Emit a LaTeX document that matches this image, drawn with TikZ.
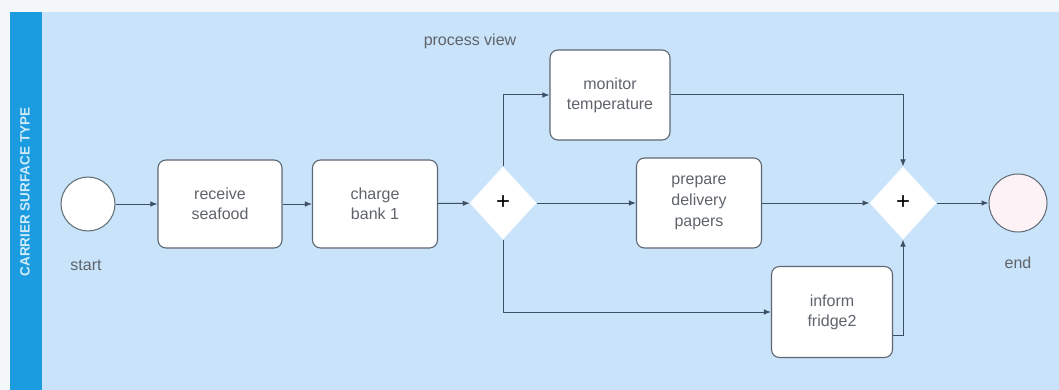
\documentclass[tikz,border=0pt]{standalone}
\usepackage{fontspec}
\setmainfont{Liberation Sans}
\usetikzlibrary{arrows.meta,shapes.geometric,calc}
\definecolor{lanebg}{HTML}{C9E3FA}
\definecolor{lanehead}{HTML}{1B9BE0}
\definecolor{pagebg}{HTML}{F4F8FA}
\definecolor{flow}{HTML}{3D4F63}
\definecolor{boxline}{HTML}{5E6873}
\definecolor{txt}{HTML}{5F646B}
\definecolor{endfill}{HTML}{FDF3F7}
\begin{document}
\begin{tikzpicture}[x=1pt,y=-1pt,
  every node/.style={font=\fontsize{16}{20}\selectfont, text=txt},
  task/.style={draw=boxline, line width=1.1pt, fill=white, rounded corners=8pt,
    align=center, inner sep=2pt},
  gate/.style={shape=diamond, draw=white!90!lanebg, fill=white, line width=1pt,
    minimum width=66pt, minimum height=72pt, inner sep=0pt,
    font=\fontsize{24}{24}\selectfont, text=black},
  event/.style={circle, draw=boxline, line width=1pt, minimum size=54pt, inner sep=0pt},
  seq/.style={draw=flow, line width=1pt, -{Latex[length=7pt,width=5.5pt]}},
  lbl/.style={font=\fontsize{16}{18}\selectfont}
]
\useasboundingbox (0,0) rectangle (1059,390);
% page and lane
\fill[pagebg] (0,0) rectangle (1059,390);
\fill[lanebg] (10,12) rectangle (1059,390);
\fill[lanehead] (10,12) rectangle (42,390);
\node[rotate=90, text=white!80!lanehead, font=\fontsize{13.5}{14}\selectfont\bfseries] (lane) at (25,192) {CARRIER SURFACE TYPE};
\node[lbl] (pv) at (470,41) {process view};

% events
\node[event, fill=white] (start) at (88,204) {};
\node[lbl] (startlbl) at (86,265) {start};
\node[event, fill=endfill, minimum size=58pt] (end) at (1018,203) {};
\node[lbl] (endlbl) at (1018,263) {end};

% tasks
\node[task, minimum width=124pt, minimum height=88pt] (recv) at (220,204) {receive\\seafood};
\node[task, minimum width=125pt, minimum height=88pt] (charge) at (375,204) {charge\\bank 1};
\node[task, minimum width=120pt, minimum height=90pt] (mon) at (610,95) {monitor\\temperature};
\node[task, minimum width=125pt, minimum height=90pt, font=\fontsize{16}{21}\selectfont] (prep) at (699,203) {prepare\\delivery\\papers};
\node[task, minimum width=121pt, minimum height=91pt] (inf) at (832,312) {inform\\fridge2};

% gateways
\node[gate] (g1) at (503,203) {+};
\node[gate] (g2) at (903,203) {+};

% sequence flows
\draw[seq] (start) -- (recv);
\draw[seq] (recv) -- (charge);
\draw[seq] (charge) -- (g1);
\draw[seq] (g1) -- (prep);
\draw[seq] (g1.north) |- (mon.west);
\draw[seq] (g1.south) |- (inf.west);
\draw[seq] (mon.east) -| (g2.north);
\draw[seq] (prep) -- (g2);
\coordinate (infout) at ($(inf.east)+(0,23)$);
\draw[seq] (infout) -| (g2.south);
\draw[seq] (g2) -- (end);
\end{tikzpicture}
\end{document}
